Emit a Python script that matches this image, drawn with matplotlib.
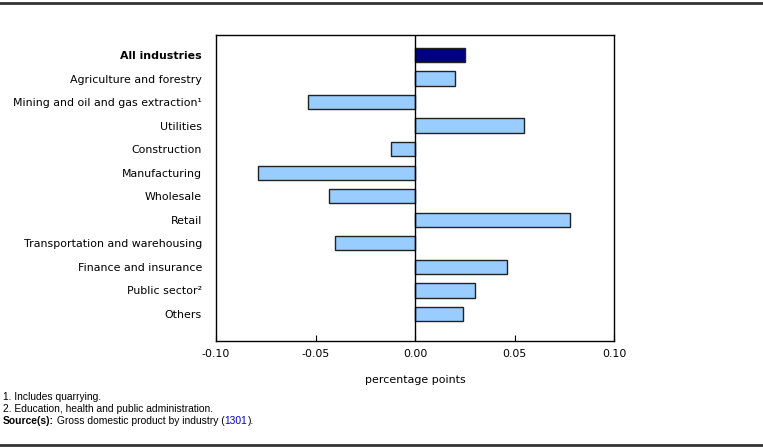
import numpy as np
import matplotlib
matplotlib.use('Agg')
import matplotlib.pyplot as plt

# Données
industries = ['All industries', 'Agriculture and forestry', 'Mining and oil and gas extraction¹',
              'Utilities', 'Construction', 'Manufacturing', 'Wholesale', 'Retail',
              'Transportation and warehousing', 'Finance and insurance', 'Public sector²', 'Others']
values = [0.025, 0.020, -0.054, 0.055, -0.012, -0.079, -0.043, 0.078, -0.040, 0.046, 0.030, 0.024]
xticks = [-0.10, -0.05, 0.00, 0.05, 0.10]
footnotes = ['1. Includes quarrying.', '2. Education, health and public administration.']

fig = plt.figure(figsize=(7.63, 4.47), dpi=100)
ax = fig.add_axes([216/763, 1-341/447, (614-216)/763, (341-35)/447])

y = np.arange(len(industries))
colors = ['#000080'] + ['#99CCFF'] * (len(industries) - 1)
ax.barh(y, values, height=0.61, color=colors, edgecolor='#222222', linewidth=1)
ax.axvline(0, color='black', linewidth=1)

ax.set_ylim(len(industries) - 1 + 1.15, -0.85)
ax.set_xlim(-0.10, 0.10)
ax.set_yticks(y)
ax.set_yticklabels(industries, fontsize=7.9)
ax.get_yticklabels()[0].set_fontweight('bold')
ax.tick_params(axis='y', length=0, pad=10)
ax.set_xticks(xticks)
ax.set_xticklabels([f'{v:.2f}' for v in xticks], fontsize=7.9)
ax.tick_params(axis='x', direction='in', length=4, pad=6, color='black')
ax.set_xlabel('percentage points', fontsize=7.9, labelpad=11)
for s in ax.spines.values():
    s.set_linewidth(1)

# Lignes horitzontals
fig.add_artist(plt.Line2D([0, 1], [1-3/447, 1-3/447], color='#333333', linewidth=2))
fig.add_artist(plt.Line2D([0, 1], [1-445/447, 1-445/447], color='#333333', linewidth=2))

# Notes
fs = 7.4
fig.text(3/763, 1-397/447, footnotes[0], fontsize=fs, family='Liberation Sans', va='center')
fig.text(3/763, 1-409/447, footnotes[1], fontsize=fs, family='Liberation Sans', va='center')

fig.canvas.draw()
r = fig.canvas.get_renderer()
parts = [('Source(s):', 'bold', 'black'), (' Gross domestic product by industry (', 'normal', 'black'),
         ('1301', 'normal', '#0000CC'), (').', 'normal', 'black')]
xpos = 3
for txt, w, c in parts:
    t = fig.text(xpos/763, 1-421/447, txt, fontsize=fs, family='Liberation Sans',
                 fontweight=w, color=c, va='center')
    bb = t.get_window_extent(renderer=r)
    xpos += bb.width

fig.savefig('out.png', dpi=100)
